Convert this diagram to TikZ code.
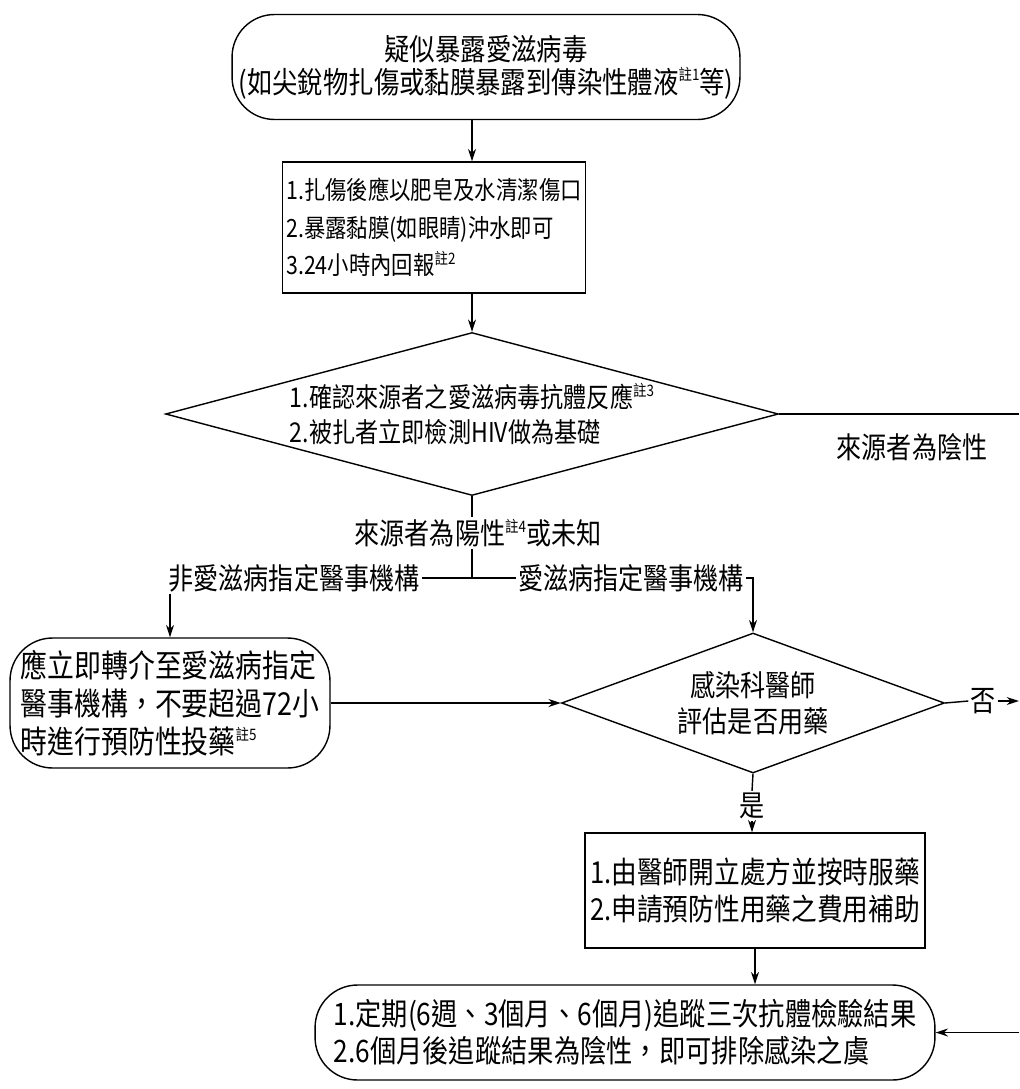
\documentclass[tikz,border=0pt]{standalone}
\usepackage{fontspec}
\usepackage{tikz}
\usetikzlibrary{shapes,arrows.meta,positioning,calc}
\newfontfamily\cjk[FakeStretch=0.85]{Noto Sans CJK TC}
\newcommand\zhu[1]{\raisebox{0.75ex}{\fontsize{9}{9}\selectfont 註#1}}

\begin{document}
\begin{tikzpicture}[x=0.02cm, y=-0.02cm,
    terminal/.style={draw, line width=0.8pt, rounded corners=0.85cm, inner sep=2pt},
    process/.style={draw, line width=0.8pt, rectangle, align=left, inner sep=2pt},
    decision/.style={draw, line width=0.8pt, diamond, inner sep=0pt},
    edgetext/.style={inner sep=1pt, font=\cjk\fontsize{16.8}{20}\selectfont},
    flow/.style={line width=0.8pt},
    arrow/.style={flow, -{Stealth[length=7pt,width=4.5pt]}}]

\useasboundingbox (0,0) rectangle (1019,1089);

% Start / first aid
\node[terminal, align=center, font=\cjk\fontsize{17}{18.7}\selectfont,
      minimum width=10.16cm, minimum height=2.1cm] (start) at (486,67)
      {疑似暴露愛滋病毒\\(如尖銳物扎傷或黏膜暴露到傳染性體液\zhu{1}等)};
\node[process, font=\cjk\fontsize{14.3}{21.3}\selectfont,
      minimum width=5.64cm, minimum height=2.62cm] (rinse) at (434,227.5)
      {1.扎傷後應以肥皂及水清潔傷口\\2.暴露黏膜(如眼睛)沖水即可\\3.24小時內回報\zhu{2}};

% Source check
\node[decision, align=left, aspect=3.76, font=\cjk\fontsize{15.5}{19.8}\selectfont,
      minimum width=12.26cm, minimum height=3.26cm] (check) at (472,414)
      {1.確認來源者之愛滋病毒抗體反應\zhu{3}\\2.被扎者立即檢測HIV做為基礎};
\coordinate (negend) at (1019,414);
\node[edgetext] (negative) at (912,447) {來源者為陰性};
\node[edgetext] (positive) at (478,533) {來源者為陽性\zhu{4}或未知};
\coordinate (jn) at (472,578);
\node[edgetext] (noaids) at (294,578) {非愛滋病指定醫事機構};
\node[edgetext] (aidsinst) at (631,578) {愛滋病指定醫事機構};

% Referral and evaluation
\node[terminal, align=left, font=\cjk\fontsize{18}{21.5}\selectfont,
      minimum width=6.4cm, minimum height=2.6cm] (refer) at (170,703)
      {應立即轉介至愛滋病指定\\醫事機構，不要超過72小\\時進行預防性投藥\zhu{5}};
\node[decision, align=center, aspect=2.74, font=\cjk\fontsize{16.8}{20.5}\selectfont,
      minimum width=7.66cm, minimum height=2.8cm] (assess) at (753,703)
      {感染科醫師\\評估是否用藥};
\node[edgetext] (no) at (983,701) {否};
\coordinate (noend) at (1019,701);
\node[edgetext] (yes) at (752,806) {是};

% Medication and follow-up
\node[process, font=\cjk\fontsize{17.2}{21}\selectfont,
      minimum width=6.8cm, minimum height=2.3cm] (meds) at (755,890.5)
      {1.由醫師開立處方並按時服藥\\2.申請預防性用藥之費用補助};
\node[terminal, align=left, font=\cjk\fontsize{17.6}{21}\selectfont,
      minimum width=12.4cm, minimum height=1.9cm] (follow) at (625,1032.5)
      {1.定期(6週、3個月、6個月)追蹤三次抗體檢驗結果\\2.6個月後追蹤結果為陰性，即可排除感染之虞};
\coordinate (backstart) at (1019,1032.5);

% Connectors
\draw[arrow] (start.south -| check.north) -- (check.north |- rinse.north);
\draw[arrow] (rinse.south -| check.north) -- (check.north);
\draw[flow] (check.east) -- (negend);
\draw[flow] (check.south) -- (positive.north -| check.south);
\draw[flow] (positive.south -| jn) -- (jn);
\draw[flow] (noaids.east) -- (jn) -- (aidsinst.west);
\draw[arrow] (noaids.south -| refer.north) -- (refer.north);
\draw[arrow] (aidsinst.east) -| (assess.north);
\draw[arrow] (refer.east) -- (assess.west);
\draw[flow] (assess.east) -- (no.west);
\draw[arrow] (no.east) -- (noend);
\draw[flow] (assess.south) -- (yes.north);
\draw[arrow] (yes.south) -- (yes.south |- meds.north);
\draw[arrow] (meds.south) -- (meds.south |- follow.north);
\draw[arrow] (backstart) -- (follow.east);
\end{tikzpicture}
\end{document}
